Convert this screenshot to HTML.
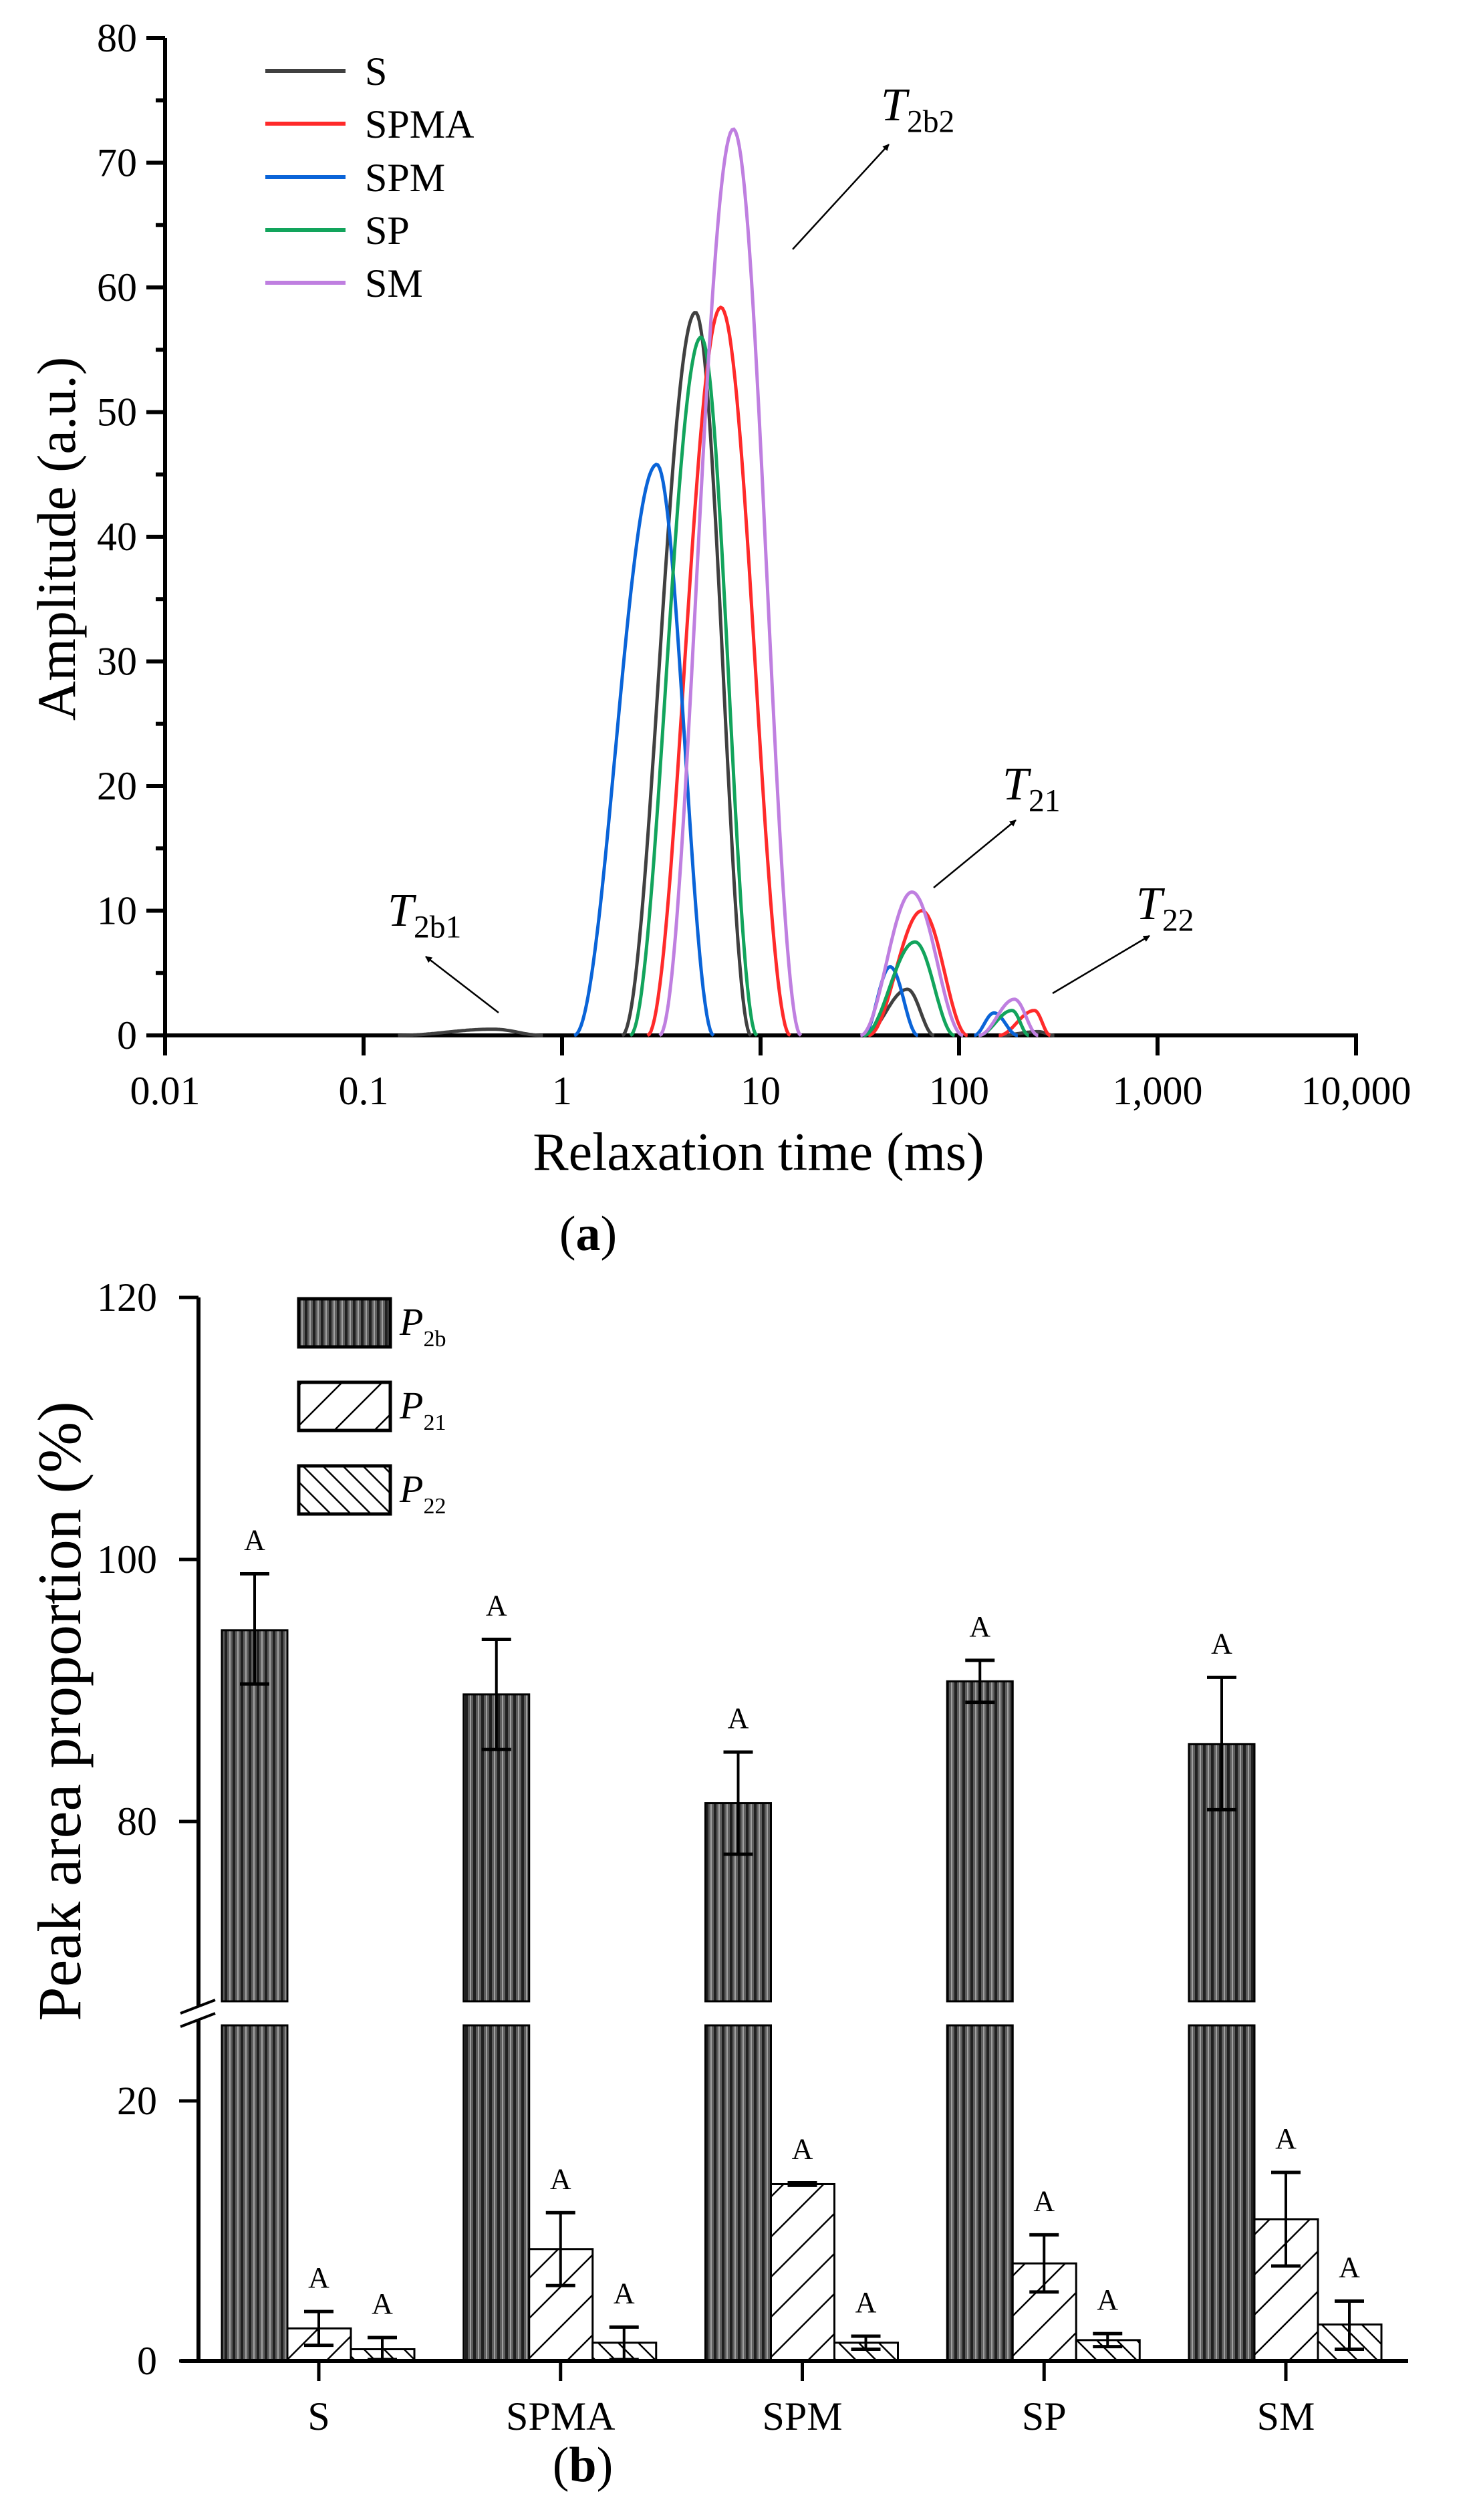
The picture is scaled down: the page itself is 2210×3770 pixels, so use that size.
<!DOCTYPE html>
<html><head><meta charset="utf-8"><style>
html,body{margin:0;padding:0;background:#fff}
svg{display:block}
text{font-family:"Liberation Serif","Times New Roman",serif;fill:#000}
</style></head><body>
<svg id="s" width="2210" height="3770" viewBox="0 0 2210 3770" xmlns="http://www.w3.org/2000/svg">
<defs>
<pattern id="pv" width="12" height="12" patternUnits="userSpaceOnUse"><rect width="12" height="12" fill="#5e5e5e"/><rect x="0" width="4" height="12" fill="#202020"/><rect x="7" width="2" height="12" fill="#a0a0a0"/></pattern>
<pattern id="pd" width="60" height="60" patternUnits="userSpaceOnUse"><rect width="60" height="60" fill="#fff"/><path d="M0 60 L60 0 M-15 15 L15 -15 M45 75 L75 45" stroke="#000" stroke-width="2.5"/></pattern>
<pattern id="pb" width="30" height="30" patternUnits="userSpaceOnUse"><rect width="30" height="30" fill="#fff"/><path d="M0 0 L30 30 M-8 22 L8 38 M22 -8 L38 8" stroke="#000" stroke-width="2.5"/></pattern>
<marker id="ar" markerWidth="10" markerHeight="10" refX="9" refY="5" orient="auto" markerUnits="userSpaceOnUse" viewBox="0 0 10 10"><path d="M0 0 L10 5 L0 10 z" fill="#000"/></marker>
</defs>
<g id="a"></g>
<g id="b"></g>
</svg>
<script>
var NS="http://www.w3.org/2000/svg";
function el(p,t,a,txt){var e=document.createElementNS(NS,t);for(var k in a)e.setAttribute(k,a[k]);if(txt!==undefined)e.textContent=txt;p.appendChild(e);return e;}
var A=document.getElementById('a'),B=document.getElementById('b');
var X0=247,DEC=297,Y0=1549,YS=18.65;
function px(l){return X0+(l+2)*DEC;} function py(v){return Y0-v*YS;}
var series=[
 ["#404040",[[Math.log10(0.45),0.5,0.48,0.25],[0.672,58,0.37,0.28],[1.74,3.7,0.22,0.135],[2.4,0.3,0.2,0.08]]],
 ["#ff2a2a",[[0.8,58.4,0.37,0.35],[1.813,10,0.27,0.23],[2.38,2,0.18,0.08]]],
 ["#0a64d8",[[0.477,45.8,0.416,0.287],[1.653,5.5,0.135,0.14],[2.176,1.8,0.1,0.12]]],
 ["#12a45c",[[0.7,56,0.357,0.282],[1.778,7.5,0.26,0.2],[2.267,2,0.17,0.085]]],
 ["#bf7fe0",[[0.863,72.7,0.372,0.341],[1.763,11.5,0.26,0.258],[2.279,2.9,0.18,0.12]]]
];
el(A,'line',{x1:X0,y1:57,x2:X0,y2:Y0+2,stroke:'#000','stroke-width':6});
el(A,'line',{x1:X0-3,y1:Y0,x2:px(4)+3,y2:Y0,stroke:'#000','stroke-width':6});
for(var v=0;v<=80;v+=5){var y=py(v);var big=v%10==0;el(A,'line',{x1:X0-(big?28:14),y1:y,x2:X0,y2:y,stroke:'#000','stroke-width':6});
 if(big)el(A,'text',{x:205,y:y+20,'text-anchor':'end','font-size':60},String(v));}
var xl=["0.01","0.1","1","10","100","1,000","10,000"];
for(var i=0;i<=6;i++){var x=px(i-2);el(A,'line',{x1:x,y1:Y0,x2:x,y2:Y0+30,stroke:'#000','stroke-width':6});el(A,'text',{x:x,y:1652,'text-anchor':'middle','font-size':60},xl[i]);}
series.forEach(function(s){
 s[1].forEach(function(p){var c=p[0],a=p[1],wl=p[2],wr=p[3];var d='';
  for(var k=0;k<=80;k++){var l=c-wl+(wl+wr)*k/80;var u=l<c?(l-c)/wl:(l-c)/wr;var val=a*Math.pow(Math.cos(Math.PI/2*u),2);
   d+=(k?'L':'M')+px(l).toFixed(1)+' '+py(val).toFixed(1);}
  el(A,'path',{d:d,fill:'none',stroke:s[0],'stroke-width':5});});
});
var names=["S","SPMA","SPM","SP","SM"],ly=[106,185,265,344,423];
for(i=0;i<5;i++){el(A,'line',{x1:397,y1:ly[i],x2:517,y2:ly[i],stroke:series[i][0],'stroke-width':6});el(A,'text',{x:546,y:ly[i]+21,'font-size':60},names[i]);}
function lab(p,x,y,sub,fs){var t=el(p,'text',{x:x,y:y,'font-size':fs});el(t,'tspan',{'font-style':'italic'},'T');el(t,'tspan',{'font-size':fs*0.68,dy:fs*0.25},sub);}
lab(A,1318,180,'2b2',70);lab(A,1500,1196,'21',70);lab(A,1700,1375,'22',70);lab(A,580,1385,'2b1',70);
[[1186,373,1330,216],[1397,1328,1520,1227],[1575,1486,1720,1400],[746,1515,637,1431]].forEach(function(q){el(A,'line',{x1:q[0],y1:q[1],x2:q[2],y2:q[3],stroke:'#000','stroke-width':2.5,'marker-end':'url(#ar)'});});
el(A,'text',{x:1135,y:1750,'text-anchor':'middle','font-size':80},'Relaxation time (ms)');
el(A,'text',{transform:'translate(112,806) rotate(-90)','text-anchor':'middle','font-size':82},'Amplitude (a.u.)');
var ta=el(A,'text',{x:880,y:1870,'text-anchor':'middle','font-size':74},'(');el(ta,'tspan',{'font-weight':'bold'},'a');el(ta,'tspan',{},')');
var YB0=3532,BRK1=2994,BRK2=3030;
function ub(v){return 2725-(v-80)*19.6;} function lb(v){return YB0-v*19.45;}
var P2b=[[94.6,90.5,98.9],[89.7,85.5,93.9],[81.4,77.5,85.3],[90.7,89.1,92.3],[85.9,80.9,91.0]];
var P21=[[2.5,1.2,3.8],[8.6,5.8,11.4],[13.6,13.5,13.7],[7.5,5.3,9.7],[10.9,7.3,14.5]];
var P22=[[0.9,0.1,1.8],[1.4,0.1,2.6],[1.4,0.9,1.9],[1.6,1.1,2.1],[2.8,0.9,4.6]];
function eb(x,y1,y2){el(B,'line',{x1:x,y1:y1,x2:x,y2:y2,stroke:'#000','stroke-width':4});el(B,'line',{x1:x-22,y1:y1,x2:x+22,y2:y1,stroke:'#000','stroke-width':5});el(B,'line',{x1:x-22,y1:y2,x2:x+22,y2:y2,stroke:'#000','stroke-width':5});el(B,'text',{x:x,y:y2-36,'text-anchor':'middle','font-size':44},'A');}
for(i=0;i<5;i++){var c=477+i*361.75;
 var v=P2b[i];var x1=c-145,x2=c-47;
 el(B,'rect',{x:x1,y:ub(v[0]),width:x2-x1,height:BRK1-ub(v[0]),fill:'url(#pv)',stroke:'#000','stroke-width':3});
 el(B,'rect',{x:x1,y:BRK2,width:x2-x1,height:YB0-BRK2,fill:'url(#pv)',stroke:'#000','stroke-width':3});
 eb((x1+x2)/2,ub(v[1]),ub(v[2]));
 v=P21[i];el(B,'rect',{x:c-47,y:lb(v[0]),width:95,height:YB0-lb(v[0]),fill:'url(#pd)',stroke:'#000','stroke-width':3});eb(c,lb(v[1]),lb(v[2]));
 v=P22[i];el(B,'rect',{x:c+48,y:lb(v[0]),width:95,height:YB0-lb(v[0]),fill:'url(#pb)',stroke:'#000','stroke-width':3});eb(c+95,lb(v[1]),lb(v[2]));
 el(B,'line',{x1:c,y1:YB0,x2:c,y2:YB0+30,stroke:'#000','stroke-width':5});
 el(B,'text',{x:c,y:3635,'text-anchor':'middle','font-size':60},names[i]);
}
el(B,'line',{x1:297,y1:1941,x2:297,y2:YB0,stroke:'#000','stroke-width':6});
el(B,'line',{x1:270,y1:YB0,x2:2107,y2:YB0,stroke:'#000','stroke-width':6});
[[120,ub(120)],[100,ub(100)],[80,ub(80)],[20,lb(20)],[0,lb(0)]].forEach(function(t){el(B,'line',{x1:268,y1:t[1],x2:297,y2:t[1],stroke:'#000','stroke-width':5});el(B,'text',{x:235,y:t[1]+20,'text-anchor':'end','font-size':60},String(t[0]));});
el(B,'rect',{x:270,y:3002,width:50,height:20,fill:'#fff'});
el(B,'line',{x1:270,y1:3012,x2:322,y2:2992,stroke:'#000','stroke-width':4});
el(B,'line',{x1:270,y1:3032,x2:322,y2:3012,stroke:'#000','stroke-width':4});
var lf=['url(#pv)','url(#pd)','url(#pb)'],lyy=[1943,2068,2193],ls=['2b','21','22'];
for(i=0;i<3;i++){el(B,'rect',{x:447,y:lyy[i],width:137,height:72,fill:lf[i],stroke:'#000','stroke-width':5});
 var t=el(B,'text',{x:598,y:lyy[i]+54,'font-size':58});el(t,'tspan',{'font-style':'italic'},'P');el(t,'tspan',{'font-size':34,dy:17},ls[i]);}
el(B,'text',{transform:'translate(120,2560) rotate(-90)','text-anchor':'middle','font-size':92},'Peak area proportion (%)');
var tb=el(B,'text',{x:872,y:3712,'text-anchor':'middle','font-size':74},'(');el(tb,'tspan',{'font-weight':'bold'},'b');el(tb,'tspan',{},')');
</script>
</body></html>
